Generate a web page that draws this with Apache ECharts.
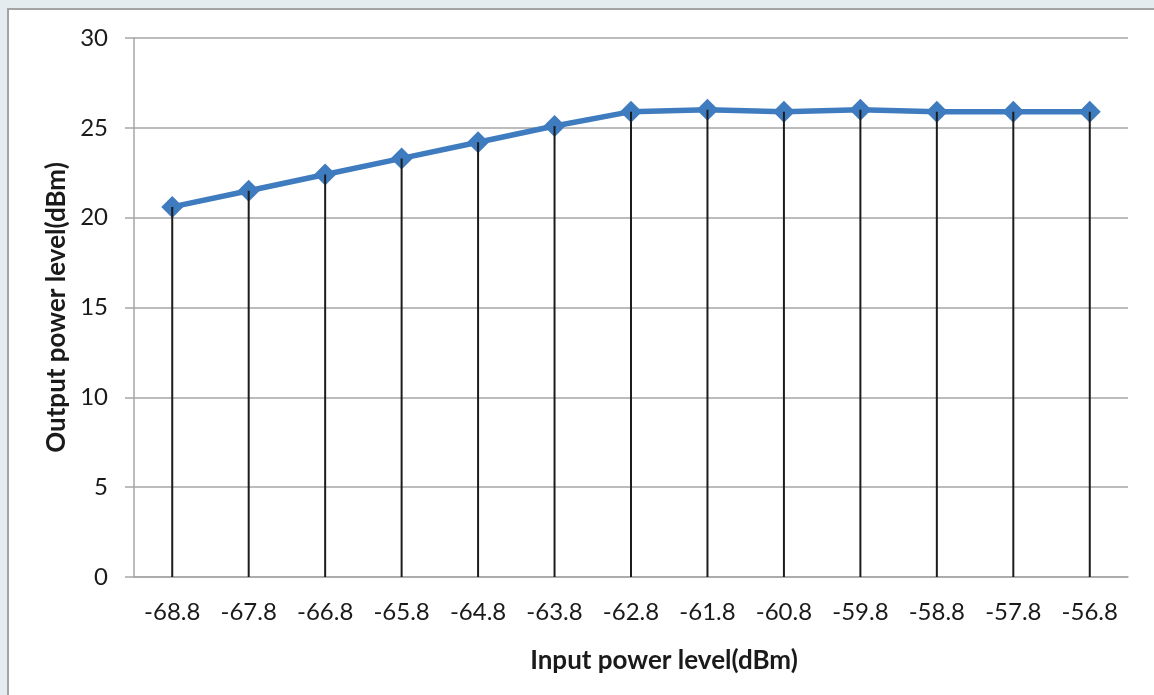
<!DOCTYPE html>
<html>
<head>
<meta charset="utf-8">
<script src="https://cdn.jsdelivr.net/npm/echarts@6/dist/echarts.min.js"></script>
<style>
  html, body { margin: 0; padding: 0; width: 1154px; height: 695px; overflow: hidden; background: #e4ecf0; }
  #panel { position: absolute; left: 7px; top: 8px; width: 1160px; height: 700px; background: #ffffff; border-left: 2px solid #a3a3a3; border-top: 2px solid #a3a3a3; }
  #chart { position: absolute; left: 0; top: 0; width: 1154px; height: 695px; }
</style>
</head>
<body>
<div id="panel"></div>
<div id="chart"></div>
<script>
// Input power levels (dBm) on the horizontal axis
const inputLevels = ['-68.8', '-67.8', '-66.8', '-65.8', '-64.8', '-63.8', '-62.8', '-61.8', '-60.8', '-59.8', '-58.8', '-57.8', '-56.8'];
// Measured output power level (dBm) for each input level
const outputPower = [20.6, 21.5, 22.4, 23.3, 24.2, 25.1, 25.9, 26.0, 25.9, 26.0, 25.9, 25.9, 25.9];
// Vertical axis ticks
const yMin = 0, yMax = 30, yStep = 5;

const fontFamily = 'Lato, "Open Sans", sans-serif';
const chart = echarts.init(document.getElementById('chart'), null, { renderer: 'canvas' });

chart.setOption({
  backgroundColor: 'transparent',
  animation: false,
  grid: { left: 134, right: 26, top: 38, bottom: 118 },
  xAxis: {
    type: 'category',
    data: inputLevels,
    boundaryGap: true,
    name: 'Input power level(dBm)',
    nameLocation: 'middle',
    nameGap: 71,
    // title sits a little right of the plot centre
    nameTextStyle: { fontFamily, fontSize: 26, fontWeight: 'bold', color: '#1a1a1a', padding: [0, 0, 0, 66] },
    axisLine: { lineStyle: { color: '#a6a6a6', width: 1.5 } },
    axisTick: { show: false },
    axisLabel: { fontFamily, fontSize: 24, color: '#1a1a1a', margin: 23, interval: 0 }
  },
  yAxis: {
    type: 'value',
    min: yMin, max: yMax, interval: yStep,
    name: 'Output power level(dBm)',
    nameLocation: 'middle',
    nameGap: 54,
    nameTextStyle: { fontFamily, fontSize: 26, fontWeight: 'bold', color: '#1a1a1a' },
    axisLine: { show: true, lineStyle: { color: '#a6a6a6', width: 1.5 } },
    axisTick: { show: true, length: 9, lineStyle: { color: '#a6a6a6', width: 1.5 } },
    axisLabel: { fontFamily, fontSize: 24, color: '#1a1a1a', margin: 26 },
    splitLine: { show: true, lineStyle: { color: '#a6a6a6', width: 1.5 } }
  },
  series: [
    {
      // drop lines from each point to the horizontal axis
      type: 'bar',
      data: outputPower,
      barWidth: 2,
      itemStyle: { color: '#1c1c1c' },
      z: 4,
      silent: true
    },
    {
      type: 'line',
      data: outputPower,
      symbol: 'diamond',
      symbolSize: 22,
      showSymbol: true,
      lineStyle: { color: '#3f7bbf', width: 5.5 },
      itemStyle: { color: '#3f7bbf' },
      z: 3
    }
  ]
});
</script>
</body>
</html>
